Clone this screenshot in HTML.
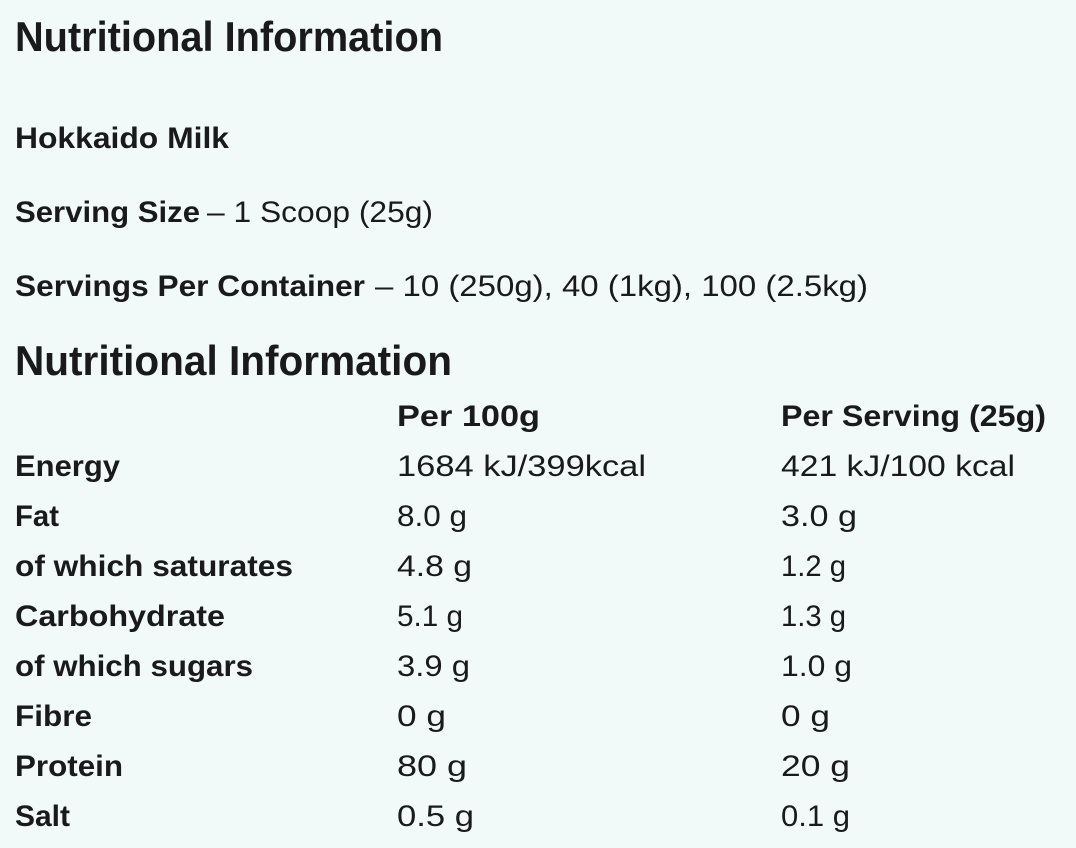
<!DOCTYPE html>
<html><head><meta charset="utf-8"><style>
html,body{margin:0;padding:0;background:#f1f9f9;}
svg{display:block}
text{font-family:"Liberation Sans",sans-serif;fill:#1a1a1a;}
.b{font-weight:bold}
.t{font-size:30px}
.h{font-size:42px;font-weight:bold}
</style></head><body>
<svg width="1076" height="848" xmlns="http://www.w3.org/2000/svg">
<rect width="1076" height="848" fill="#f1f9f9"/>
<text class="h" x="15" y="51" textLength="428" lengthAdjust="spacingAndGlyphs">Nutritional Information</text>
<text class="t b" x="15" y="148" textLength="214" lengthAdjust="spacingAndGlyphs">Hokkaido Milk</text>
<text class="t b" x="15" y="222" textLength="185" lengthAdjust="spacingAndGlyphs">Serving Size</text>
<text class="t" x="207" y="222" textLength="226" lengthAdjust="spacingAndGlyphs">– 1 Scoop (25g)</text>
<text class="t b" x="15" y="296" textLength="350" lengthAdjust="spacingAndGlyphs">Servings Per Container</text>
<text class="t" x="375" y="296" textLength="493" lengthAdjust="spacingAndGlyphs">– 10 (250g), 40 (1kg), 100 (2.5kg)</text>
<text class="h" x="15" y="375" textLength="437" lengthAdjust="spacingAndGlyphs">Nutritional Information</text>
<text class="t b" x="397" y="426" textLength="143" lengthAdjust="spacingAndGlyphs">Per 100g</text>
<text class="t b" x="781" y="426" textLength="265" lengthAdjust="spacingAndGlyphs">Per Serving (25g)</text>

<text class="t b" x="15" y="476" textLength="105" lengthAdjust="spacingAndGlyphs">Energy</text>
<text class="t b" x="15" y="526" textLength="44" lengthAdjust="spacingAndGlyphs">Fat</text>
<text class="t b" x="15" y="576" textLength="278" lengthAdjust="spacingAndGlyphs">of which saturates</text>
<text class="t b" x="15" y="626" textLength="210" lengthAdjust="spacingAndGlyphs">Carbohydrate</text>
<text class="t b" x="15" y="676" textLength="238" lengthAdjust="spacingAndGlyphs">of which sugars</text>
<text class="t b" x="15" y="726" textLength="77" lengthAdjust="spacingAndGlyphs">Fibre</text>
<text class="t b" x="15" y="776" textLength="108" lengthAdjust="spacingAndGlyphs">Protein</text>
<text class="t b" x="15" y="826" textLength="55" lengthAdjust="spacingAndGlyphs">Salt</text>

<text class="t" x="397" y="476" textLength="249" lengthAdjust="spacingAndGlyphs">1684 kJ/399kcal</text>
<text class="t" x="397" y="526" textLength="70" lengthAdjust="spacingAndGlyphs">8.0 g</text>
<text class="t" x="397" y="576" textLength="75" lengthAdjust="spacingAndGlyphs">4.8 g</text>
<text class="t" x="397" y="626" textLength="66" lengthAdjust="spacingAndGlyphs">5.1 g</text>
<text class="t" x="397" y="676" textLength="73" lengthAdjust="spacingAndGlyphs">3.9 g</text>
<text class="t" x="397" y="726" textLength="49" lengthAdjust="spacingAndGlyphs">0 g</text>
<text class="t" x="397" y="776" textLength="70" lengthAdjust="spacingAndGlyphs">80 g</text>
<text class="t" x="397" y="826" textLength="77" lengthAdjust="spacingAndGlyphs">0.5 g</text>

<text class="t" x="781" y="476" textLength="234" lengthAdjust="spacingAndGlyphs">421 kJ/100 kcal</text>
<text class="t" x="781" y="526" textLength="76" lengthAdjust="spacingAndGlyphs">3.0 g</text>
<text class="t" x="781" y="576" textLength="65" lengthAdjust="spacingAndGlyphs">1.2 g</text>
<text class="t" x="781" y="626" textLength="65" lengthAdjust="spacingAndGlyphs">1.3 g</text>
<text class="t" x="781" y="676" textLength="71" lengthAdjust="spacingAndGlyphs">1.0 g</text>
<text class="t" x="781" y="726" textLength="49" lengthAdjust="spacingAndGlyphs">0 g</text>
<text class="t" x="781" y="776" textLength="69" lengthAdjust="spacingAndGlyphs">20 g</text>
<text class="t" x="781" y="826" textLength="69" lengthAdjust="spacingAndGlyphs">0.1 g</text>
</svg>
</body></html>
